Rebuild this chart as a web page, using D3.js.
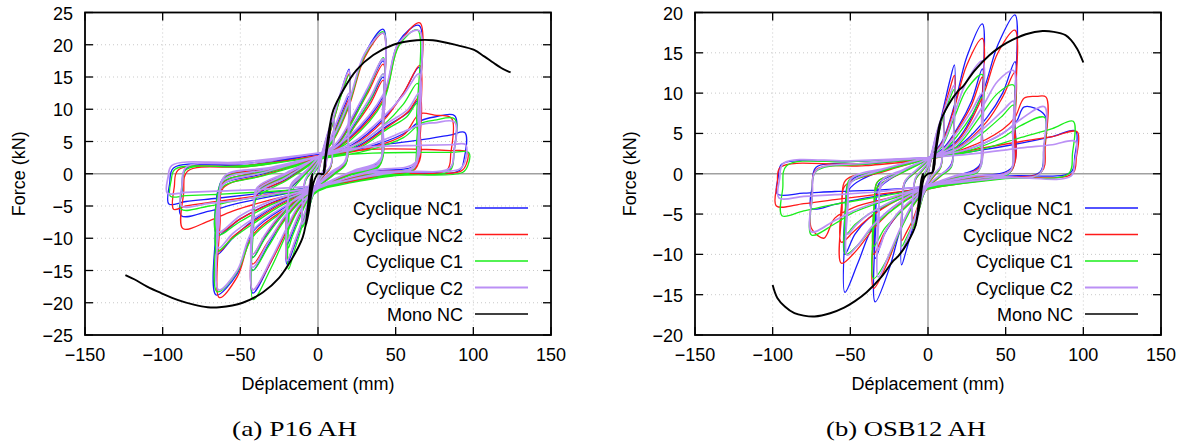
<!DOCTYPE html>
<html><head><meta charset="utf-8">
<script src="https://cdn.jsdelivr.net/npm/d3@7"></script>
<style>body{margin:0;background:#fff}svg{display:block}</style>
</head><body><svg id="c" width="1188" height="443"></svg>
<script>
const xTicks=[-150,-100,-50,0,50,100,150];
const p16YTicks=[-25,-20,-15,-10,-5,0,5,10,15,20,25];
const osbYTicks=[-20,-15,-10,-5,0,5,10,15,20];
const seriesNames=["Cyclique NC1","Cyclique NC2","Cyclique C1","Cyclique C2","Mono NC"];
const captions=["(a) P16 AH","(b) OSB12 AH"];

const p16NC1=[[0,0],[2,2.2],[4,4],[6,5.5],[5.6,2.5],[4.5,0.8],[2,-0.2],[0,-1],[-2,-2.4],[-4,-3.8],[-6,-5],[-5.6,-2.2],[-4.5,-0.6],[-2,0.4],[0,1.2],
[3,3.5],[6,6],[8,7.4],[10,8.5],[9.6,3.8],[8,1],[4,-0.2],[0,-1.5],[-3,-3],[-6,-5.5],[-8,-7],[-10,-8],[-9.6,-3.5],[-8,-1],[-4,0.4],[0,1.8],
[5,4.5],[10,8.5],[15,12.8],[20,16.2],[19.5,7],[18,1.8],[10,0],[0,-2],[-5,-4],[-10,-7.5],[-15,-11],[-20,-14],[-19.5,-5.5],[-18,-2.5],[-10,-0.5],[0,2.2],
[6,4],[12,7.5],[17,10.5],[20,12],[19.5,5],[17,1.5],[8,0],[0,-1.8],[-7,-4],[-13,-7],[-17,-9.5],[-20,-11],[-19.5,-4.5],[-17,-1.8],[-8,0.3],[0,2.3],
[10,5.5],[20,11],[30,18.5],[42,22.4],[41.5,9],[40,2],[22,0.2],[0,-2.5],[-12,-5],[-20,-8.5],[-30,-13.5],[-42,-18.5],[-41.5,-7],[-40,-3.5],[-20,-0.8],[0,2.5],
[12,4.5],[22,8.5],[32,13],[42,17.5],[41.5,6.5],[39.5,1.5],[20,0],[0,-2.3],[-12,-4.2],[-22,-7],[-32,-11],[-42,-15],[-41.5,-5.5],[-39.5,-2.8],[-20,-0.3],[0,2.4],
[14,4.3],[24,7.8],[34,11.5],[42,15],[41.5,5.5],[39,1.2],[20,-0.1],[0,-2.2],[-14,-4],[-24,-6.5],[-34,-9.8],[-42,-13],[-41.5,-4.8],[-39,-2.3],[-20,0],[0,2.4],
[20,5.5],[42,12],[52,20.5],[65,23],[64.5,9],[63,1.5],[35,0.3],[0,-2.5],[-20,-5],[-42,-9],[-52,-15.5],[-65.6,-18.8],[-65,-7],[-63,-2],[-35,0],[0,2.5],
[22,4.5],[42,8.5],[55,12.5],[65,16.5],[64.5,5.5],[62,0.8],[32,0],[0,-2.3],[-22,-4.3],[-42,-7.3],[-55,-10],[-65,-12.5],[-64.5,-4.5],[-62,-1.5],[-32,0.5],[0,2.5],
[25,4.2],[45,7.5],[58,9.5],[65,11.5],[64.5,4],[61,0.8],[30,-0.3],[0,-2.2],[-30,-4.5],[-50,-7],[-65,-9.5],[-64.5,-3],[-60,-0.5],[-30,0.8],[0,2.5],
[30,4],[55,6.2],[66,8.2],[75,8.8],[88,9],[87.5,3.5],[85,0.8],[45,0],[0,-2.2],[-30,-3.5],[-55,-4.8],[-70,-5.8],[-88,-6.5],[-87.5,-2.5],[-85,0.8],[-45,1.3],[0,3],
[35,4.3],[65,5.2],[85,6],[94.5,6.4],[94,2.2],[91,0.5],[50,0],[0,-2],[-35,-3],[-65,-3.8],[-85,-4.3],[-96,-4.7],[-95.5,-1.5],[-93,0.9],[-50,1.5],[0,3]];

const p16NC2=[[0,0],[2,2],[4,3.8],[6,5.2],[5.6,2.3],[4.5,0.7],[2,-0.3],[0,-1.1],[-2,-2.3],[-4,-3.6],[-6,-4.8],[-5.6,-2],[-4.5,-0.5],[-2,0.5],[0,1.3],
[3,3.3],[6,5.8],[8,7.2],[10,8.2],[9.6,3.6],[8,0.9],[4,-0.3],[0,-1.6],[-3,-3],[-6,-5.2],[-8,-6.8],[-10,-7.8],[-9.6,-3.3],[-8,-0.9],[-4,0.4],[0,1.7],
[5,4.3],[10,8.2],[15,12.3],[20,15.5],[19.5,6.5],[18,1.6],[10,-0.1],[0,-2.1],[-5,-3.9],[-10,-7.2],[-15,-10.6],[-20,-13.5],[-19.5,-5.2],[-18,-2.3],[-10,-0.4],[0,2.1],
[6,3.8],[12,7.2],[17,10],[20,11.5],[19.5,4.8],[17,1.3],[8,-0.1],[0,-1.9],[-7,-4.1],[-13,-6.8],[-17,-9],[-20,-10.5],[-19.5,-4.2],[-17,-1.6],[-8,0.2],[0,2.1],
[10,5.2],[20,10.5],[30,18],[42,21.8],[41.5,8.5],[40,1.8],[22,0.1],[0,-2.6],[-12,-5.2],[-20,-8.8],[-30,-13.5],[-42,-18],[-41.5,-6.8],[-40,-3.3],[-20,-0.9],[0,2.3],
[12,4.3],[22,8.2],[32,12.5],[42,17],[41.5,6.2],[39.5,1.4],[20,-0.1],[0,-2.4],[-12,-4.3],[-22,-7.2],[-32,-10.5],[-42,-14],[-41.5,-5.2],[-39.5,-2.6],[-20,-0.4],[0,2.3],
[14,4.1],[24,7.5],[34,11],[42,14.5],[41.5,5.3],[39,1.1],[20,-0.2],[0,-2.3],[-14,-4.1],[-24,-6.4],[-34,-9.5],[-42,-12.5],[-41.5,-4.6],[-39,-2.2],[-20,-0.2],[0,2.2],
[20,5.3],[42,11.5],[52,20],[65.5,23.4],[65,9.5],[63.5,1.2],[35,0.2],[0,-2.6],[-20,-5.3],[-42,-9.5],[-52,-16],[-63.5,-19.2],[-63,-7.5],[-61,-2.2],[-35,-0.2],[0,2.4],
[22,4.3],[42,8.2],[55,12.5],[65.5,16.8],[65,5.8],[62.5,0.7],[32,-0.1],[0,-2.4],[-22,-4.5],[-42,-7.5],[-55,-9.8],[-63.5,-12],[-63,-4.3],[-60.5,-1.3],[-32,0.4],[0,2.4],
[25,4],[45,7.3],[58,9.6],[65.5,12],[65,4.2],[61.5,0.6],[30,-0.4],[0,-2.3],[-30,-4.6],[-50,-7],[-63.5,-9],[-63,-2.8],[-59,-0.4],[-30,0.7],[0,2.4],
[30,3.8],[55,6],[65.5,9.3],[75,9.1],[86,8.6],[85.5,3.2],[83,0.6],[45,-0.1],[0,-2.3],[-30,-4],[-55,-5.8],[-70,-7.3],[-87,-8.5],[-86.5,-3],[-84,0.4],[-45,1.1],[0,2.8],
[35,3.8],[65,3.8],[85,3.6],[96,3.4],[95.5,1.5],[92,0.4],[50,-0.2],[0,-2.1],[-35,-3.3],[-65,-4.3],[-85,-5],[-93,-5.5],[-92.5,-2],[-90,0.6],[-50,1.2],[0,2.7]];

const p16C1=[[0,0],[2,2.3],[4,4.1],[6,5.6],[5.6,2.6],[4.5,0.9],[2,-0.2],[0,-1],[-2,-2.5],[-4,-3.9],[-6,-5.1],[-5.6,-2.3],[-4.5,-0.7],[-2,0.3],[0,1.1],
[3,3.4],[6,5.9],[8,7.3],[10,8.3],[9.6,3.7],[8,1],[4,-0.1],[0,-1.4],[-3,-3.1],[-6,-5.6],[-8,-7.2],[-10,-8.3],[-9.6,-3.6],[-8,-1.1],[-4,0.3],[0,1.6],
[5,4.4],[10,8.3],[15,12.2],[20,15.3],[19.5,6.8],[18,1.5],[10,-0.2],[0,-2.2],[-5,-4.2],[-10,-8],[-15,-11.8],[-19,-14.8],[-18.5,-6],[-17,-2.8],[-10,-0.6],[0,2],
[6,3.7],[12,7],[17,9.8],[20,11],[19.5,4.6],[17,1.2],[8,-0.2],[0,-2],[-7,-4.3],[-13,-7.6],[-17,-10],[-19,-11.5],[-18.5,-4.6],[-16.5,-1.8],[-8,0],[0,2],
[10,5.3],[20,10.8],[30,18.3],[42,22],[41.5,8.8],[40,1.5],[22,0],[0,-2.7],[-12,-5.4],[-20,-9.2],[-30,-14.5],[-41.7,-19.5],[-41.2,-7.3],[-39.5,-3.8],[-20,-1],[0,2.2],
[12,4.2],[22,8],[32,12.8],[42,18],[41.5,6.8],[39.5,1.2],[20,-0.2],[0,-2.5],[-12,-4.5],[-22,-7.4],[-32,-11.3],[-42,-15],[-41.5,-5.6],[-39.5,-2.9],[-20,-0.5],[0,2.2],
[14,4],[24,7.6],[34,11.6],[42,15.5],[41.5,5.6],[39,1],[20,-0.3],[0,-2.4],[-14,-4.3],[-24,-6.8],[-34,-10],[-42,-13],[-41.5,-4.9],[-39,-2.4],[-20,-0.3],[0,2.1],
[20,5],[42,11.2],[52,19.8],[64,22.3],[63.5,9],[62,1.2],[35,0],[0,-2.7],[-20,-5.5],[-42,-9.8],[-52,-15.2],[-65,-18.3],[-64.5,-7],[-62.5,-2.3],[-35,-0.3],[0,2.2],
[22,4],[42,7.5],[55,10.8],[64,14],[63.5,5],[61,0.5],[32,-0.2],[0,-2.5],[-22,-4.7],[-42,-7.8],[-55,-10],[-65,-12],[-64.5,-4.5],[-62,-1.4],[-32,0.3],[0,2.2],
[25,3.8],[45,7],[57,8.8],[64,11],[63.5,3.8],[60.5,0.4],[30,-0.4],[0,-2.4],[-30,-4.8],[-50,-7.4],[-65,-9.5],[-64.5,-3.2],[-60,-0.6],[-30,0.5],[0,2.2],
[30,3.5],[55,5.6],[66,7.8],[75,8.3],[88,8.5],[87.5,3.2],[85,0.5],[45,-0.3],[0,-2.4],[-30,-3.3],[-55,-4.3],[-70,-5],[-88,-5.5],[-87.5,-2.2],[-85,0.6],[-45,1.1],[0,2.6],
[35,3.2],[65,3.3],[85,3.3],[97,3.3],[96.5,1.3],[93,0.2],[50,-0.3],[0,-2.2],[-35,-2.8],[-65,-3.2],[-85,-3.4],[-95,-3.5],[-94.5,-1],[-92,0.7],[-50,1.2],[0,2.5]];

const p16C2=[[0,0],[2,2.2],[4,4],[6,5.4],[5.6,2.4],[4.5,0.8],[2,0],[0,-0.8],[-2,-2.2],[-4,-3.6],[-6,-4.7],[-5.6,-2.1],[-4.5,-0.5],[-2,0.5],[0,1.4],
[3,3.6],[6,6.1],[8,7.5],[10,8.6],[9.6,3.9],[8,1.2],[4,0],[0,-1.3],[-3,-2.8],[-6,-5.2],[-8,-6.8],[-10,-7.8],[-9.6,-3.3],[-8,-0.8],[-4,0.6],[0,2],
[5,4.7],[10,8.8],[15,12.9],[20,16],[19.5,7.2],[18,2],[10,0.2],[0,-1.8],[-5,-3.7],[-10,-7.1],[-15,-10.5],[-20,-13.5],[-19.5,-5.2],[-18,-2.2],[-10,-0.2],[0,2.5],
[6,4.4],[12,8],[17,11],[20,12.5],[19.5,5.3],[17,1.8],[8,0.2],[0,-1.6],[-7,-3.8],[-13,-6.6],[-17,-9],[-20,-10.5],[-19.5,-4.2],[-17,-1.5],[-8,0.4],[0,2.5],
[10,5.8],[20,11.3],[30,18.6],[42,21.8],[41.5,9.2],[40,2.2],[22,0.4],[0,-2.3],[-12,-4.8],[-20,-8.3],[-30,-13.2],[-42,-18],[-41.5,-6.6],[-40,-3.2],[-20,-0.5],[0,2.7],
[12,4.8],[22,8.8],[32,13.3],[42,17.8],[41.5,6.8],[39.5,1.7],[20,0.2],[0,-2.1],[-12,-4],[-22,-6.8],[-32,-10.6],[-42,-14.5],[-41.5,-5.3],[-39.5,-2.6],[-20,0],[0,2.6],
[14,4.6],[24,8.2],[34,12],[42,15.5],[41.5,5.8],[39,1.5],[20,0.1],[0,-2],[-14,-3.8],[-24,-6.2],[-34,-9.4],[-42,-12.5],[-41.5,-4.6],[-39,-2.1],[-20,0.2],[0,2.6],
[20,5.8],[42,12.3],[52,20.3],[65,22.2],[64.5,9.5],[63,1.8],[35,0.5],[0,-2.3],[-20,-4.8],[-42,-8.8],[-52,-15],[-64,-18],[-63.5,-6.8],[-61.5,-1.8],[-35,0.2],[0,2.7],
[22,4.8],[42,8.8],[55,12.2],[65,15.5],[64.5,5.5],[62,1],[32,0.2],[0,-2.1],[-22,-4.1],[-42,-7],[-55,-9.3],[-64,-11.5],[-63.5,-4.2],[-61,-1],[-32,0.7],[0,2.7],
[25,4.6],[45,7.9],[58,10],[65,12.5],[64.5,4.4],[61,1],[30,0],[0,-2],[-30,-4.2],[-50,-6.5],[-64,-9],[-63.5,-2.8],[-59.5,-0.2],[-30,1],[0,2.7],
[30,4.2],[55,6.5],[66,7.6],[75,7.9],[88,8],[87.5,3.3],[85,0.9],[45,0.2],[0,-2],[-30,-3.2],[-55,-4.2],[-70,-4.6],[-88,-5],[-87.5,-1.8],[-85,1],[-45,1.6],[0,3.2],
[35,4.2],[65,4.4],[85,4.5],[95,4.5],[94.5,1.8],[91,0.7],[50,0.2],[0,-1.8],[-35,-2.4],[-65,-2.7],[-85,-2.9],[-97,-3],[-96.5,-0.5],[-94,1.3],[-50,1.8],[0,3.2]];

const p16Mono=[[-124,-15.7],[-118,-16.4],[-110,-17.5],[-101,-18.5],[-90,-19.6],[-80,-20.3],[-71,-20.7],[-63.5,-20.7],[-48.5,-20],[-35.6,-18.4],[-24.9,-16.1],[-16.3,-13],[-9.9,-9.9],[-8,-8],[-6.5,-5],[-4.5,-1],[-3.5,0],[-5,-3.5],[-8,-8.2],[-6,-6],[-3,-1.5],[0,0],
[3.5,0],[5,3],[8.5,8],[7,5.5],[3.5,0.3],[5.5,4],[8,8],[9.9,9.9],[16.3,13],[24.9,16.1],[35.6,18.4],[48.5,20],[63.5,20.7],[74,20.7],[90,19.9],[100.5,19.2],[107,18.2],[113,17.2],[118,16.4],[124,15.7]];

const osbNC1=[[0,0],[2,1.8],[3.5,3],[5,4],[4.6,1.8],[3.5,0.5],[1.5,-0.2],[0,-0.8],[-2,-1.7],[-3.5,-2.7],[-5,-3.5],[-4.6,-1.5],[-3.5,-0.4],[-1.5,0.3],[0,1],
[2.5,2.6],[5,4.6],[7.5,6.2],[10,7.5],[9.6,3.2],[8,0.8],[4,-0.2],[0,-1.2],[-2.5,-2.2],[-5,-3.8],[-7.5,-5.3],[-10,-6.5],[-9.6,-2.6],[-8,-0.6],[-4,0.4],[0,1.4],
[5,4.2],[10,8.2],[14,11.5],[17,13.5],[16.5,5.5],[15,1.2],[8,-0.2],[0,-1.6],[-5,-3.6],[-10,-6.8],[-14,-9.5],[-17,-11.3],[-16.5,-4.5],[-15,-1.2],[-8,0.3],[0,1.8],
[9,4],[17,8.5],[25,14.5],[35,18.6],[34.5,7.5],[33,1],[18,-0.3],[0,-1.8],[-9,-3.6],[-17,-6.5],[-25,-11.8],[-34,-15.9],[-33.5,-6],[-32,-2],[-17,0.2],[0,1.9],
[10,3.2],[20,6],[28,9],[35,13],[34.5,5],[32.5,0.6],[18,-0.4],[0,-1.7],[-10,-3.2],[-20,-5.2],[-28,-7.5],[-34,-10.5],[-33.5,-4],[-31.5,-1.2],[-17,0.3],[0,1.9],
[18,4],[35,10],[45,16],[56,19.7],[55.5,8],[54,0.8],[30,-0.4],[0,-1.8],[-18,-3.5],[-35,-6.5],[-45,-11],[-53.5,-14.7],[-53,-6],[-51,-2],[-28,0.5],[0,2],
[20,3.5],[38,7],[48,10],[56,13.9],[55.5,5.5],[53.5,0.4],[28,-0.4],[0,-1.7],[-20,-3.2],[-38,-5.5],[-47,-7.5],[-53.5,-10],[-53,-4],[-50.5,-1],[-27,0.6],[0,2],
[25,3],[48,5],[57,6.5],[62,8.3],[75,7.3],[74.5,3],[72,0.2],[40,-0.4],[0,-1.7],[-25,-2.5],[-48,-3.3],[-60,-3.8],[-75,-4.3],[-74.5,-1.5],[-72,0.8],[-40,1.2],[0,2],
[30,2.8],[60,3.8],[80,4.6],[95,5.3],[94.5,2.2],[92,0.2],[50,-0.3],[0,-1.6],[-30,-2],[-60,-2.2],[-80,-2.4],[-97,-2.5],[-96.5,-0.5],[-94,1.2],[-50,1.5],[0,2]];

const osbNC2=[[0,0],[2,1.7],[3.5,2.9],[5,3.8],[4.6,1.7],[3.5,0.4],[1.5,-0.3],[0,-0.9],[-2,-1.8],[-3.5,-2.8],[-5,-3.6],[-4.6,-1.6],[-3.5,-0.5],[-1.5,0.2],[0,0.9],
[2.5,2.5],[5,4.4],[7.5,6],[10,7.2],[9.6,3],[8,0.7],[4,-0.3],[0,-1.3],[-2.5,-2.3],[-5,-3.9],[-7.5,-5.4],[-10,-6.7],[-9.6,-2.7],[-8,-0.7],[-4,0.3],[0,1.3],
[5,4],[10,7.8],[14,10.5],[17,12.2],[16.5,5],[15,1],[8,-0.3],[0,-1.7],[-5,-3.3],[-10,-5.8],[-14,-7.3],[-17,-8.3],[-16.5,-3.5],[-15,-1],[-8,0.2],[0,1.7],
[9,3.8],[17,8.2],[25,13.5],[35,16.8],[34.5,7],[33,0.8],[18,-0.4],[0,-1.9],[-9,-3.8],[-17,-6.5],[-26,-11],[-35,-14.2],[-34.5,-5.5],[-33,-1.8],[-17,0.1],[0,1.8],
[10,3],[20,5.8],[28,8.5],[35,12],[34.5,4.6],[32.5,0.5],[18,-0.5],[0,-1.8],[-10,-3.3],[-20,-5.2],[-28,-7.3],[-35,-10],[-34.5,-3.8],[-32.5,-1],[-17,0.2],[0,1.8],
[18,3.8],[35,9.5],[45,15],[56,17.8],[55.5,7.5],[54,0.6],[30,-0.5],[0,-1.9],[-18,-3.7],[-35,-6.8],[-46,-9.5],[-55.8,-11.1],[-55.3,-4.5],[-53.5,-1.5],[-28,0.3],[0,1.9],
[20,3.3],[38,6.5],[48,9.5],[56,12.6],[55.5,5],[53.5,0.3],[28,-0.5],[0,-1.8],[-20,-3.3],[-38,-5.5],[-48,-7.2],[-55.8,-8.5],[-55.3,-3.2],[-53,-0.8],[-27,0.5],[0,1.9],
[25,3.2],[48,5.5],[56,7],[62,9.4],[70,9.6],[76,9.5],[75.5,3.5],[73,0.2],[40,-0.5],[0,-1.9],[-25,-3],[-48,-4.2],[-60,-5.5],[-65,-7.5],[-67,-8],[-75,-6.8],[-74.5,-2.5],[-72,0.5],[-40,1],[0,1.8],
[30,3],[60,4],[80,4.6],[96,5.2],[95.5,2],[93,0],[50,-0.5],[0,-1.8],[-30,-2.5],[-60,-3.2],[-80,-3.7],[-97.6,-4],[-97,-1.2],[-95,0.8],[-50,1.2],[0,1.8]];

const osbC1=[[0,0],[2,1.8],[3.5,3],[5,3.9],[4.6,1.8],[3.5,0.5],[1.5,-0.2],[0,-0.8],[-2,-1.9],[-3.5,-2.9],[-5,-3.7],[-4.6,-1.7],[-3.5,-0.5],[-1.5,0.2],[0,0.9],
[2.5,2.5],[5,4.4],[7.5,5.9],[10,7],[9.6,3],[8,0.7],[4,-0.2],[0,-1.2],[-2.5,-2.4],[-5,-4],[-7.5,-5.6],[-10,-6.8],[-9.6,-2.8],[-8,-0.7],[-4,0.3],[0,1.3],
[5,3.8],[10,7.2],[14,9.3],[17,10.5],[16.5,4.5],[15,0.8],[8,-0.3],[0,-1.6],[-5,-3.5],[-10,-6.3],[-14,-8],[-17,-9],[-16.5,-3.8],[-15,-1.1],[-8,0.2],[0,1.6],
[9,3.4],[17,7],[25,10.5],[35,12.3],[34.5,5.5],[33,0.5],[18,-0.5],[0,-1.8],[-9,-3.8],[-17,-6.7],[-26,-10.5],[-35,-13],[-34.5,-5.2],[-33,-1.8],[-17,0.1],[0,1.7],
[10,2.8],[20,5],[28,7.2],[35,9.5],[34.5,3.8],[32.5,0.3],[18,-0.5],[0,-1.7],[-10,-3.4],[-20,-5.2],[-28,-6.8],[-35,-9],[-34.5,-3.5],[-32.5,-1],[-17,0.2],[0,1.7],
[18,3.3],[35,7.5],[45,10],[55,11],[54.5,5],[53,0.3],[30,-0.6],[0,-1.9],[-18,-3.8],[-35,-6.5],[-45,-8.8],[-53,-10],[-52.5,-4],[-51,-1.3],[-28,0.4],[0,1.8],
[20,3],[38,5.5],[48,7.2],[55,8.5],[54.5,3.8],[52.5,0.1],[28,-0.6],[0,-1.8],[-20,-3.3],[-38,-5],[-47,-6.3],[-53,-7.5],[-52.5,-3],[-50.5,-0.7],[-27,0.5],[0,1.8],
[25,2.8],[48,4.5],[60,6],[75,7],[74.5,3],[72,0],[40,-0.6],[0,-1.9],[-25,-3.2],[-48,-4.8],[-60,-6.2],[-75,-7.6],[-74.5,-3],[-72,0.3],[-40,1.2],[0,1.9],
[30,2.8],[60,4.5],[80,5.6],[93.5,6.5],[93,2.5],[90.5,0],[50,-0.6],[0,-1.8],[-30,-2.8],[-60,-3.8],[-80,-4.6],[-94,-5.2],[-93.5,-1.8],[-91,1],[-50,1.5],[0,1.9]];

const osbC2=[[0,0],[2,1.9],[3.5,3.1],[5,4.1],[4.6,1.9],[3.5,0.6],[1.5,-0.1],[0,-0.7],[-2,-1.6],[-3.5,-2.6],[-5,-3.4],[-4.6,-1.4],[-3.5,-0.3],[-1.5,0.4],[0,1.1],
[2.5,2.7],[5,4.7],[7.5,6.3],[10,7.4],[9.6,3.3],[8,0.9],[4,0],[0,-1.1],[-2.5,-2.1],[-5,-3.7],[-7.5,-5.2],[-10,-6.3],[-9.6,-2.5],[-8,-0.5],[-4,0.5],[0,1.5],
[5,4],[10,7.6],[14,9.8],[17,11],[16.5,4.8],[15,1],[8,-0.1],[0,-1.5],[-5,-3.4],[-10,-6.4],[-14,-8.4],[-17,-9.5],[-16.5,-4],[-15,-1],[-8,0.4],[0,1.8],
[9,3.6],[17,7.5],[25,11.5],[35,14],[34.5,6],[33,0.6],[18,-0.2],[0,-1.6],[-9,-3.4],[-17,-6.4],[-25,-10],[-32,-12.8],[-31.5,-5],[-30,-1.5],[-16,0.4],[0,1.9],
[10,3],[20,5.5],[28,7.8],[35,10],[34.5,4],[32.5,0.4],[18,-0.3],[0,-1.5],[-10,-3.1],[-20,-5],[-27,-7],[-32,-9.5],[-31.5,-3.5],[-29.5,-0.8],[-16,0.5],[0,1.9],
[18,3.6],[35,8.3],[45,11.5],[55,12.8],[54.5,5.5],[53,0.4],[30,-0.3],[0,-1.6],[-18,-3.5],[-35,-6.3],[-45,-8.8],[-52,-10.1],[-51.5,-4],[-50,-1.2],[-28,0.6],[0,2],
[20,3.2],[38,6],[48,7.8],[55,9],[54.5,4],[52.5,0.2],[28,-0.3],[0,-1.5],[-20,-3.1],[-38,-5],[-46,-6.3],[-52,-7.5],[-51.5,-3],[-49.5,-0.6],[-27,0.7],[0,2],
[25,3],[48,5],[60,6.8],[75,8.3],[74.5,3.3],[72,0],[40,-0.4],[0,-1.6],[-25,-3],[-48,-4.6],[-60,-5.8],[-75,-7.2],[-74.5,-2.8],[-72,0.4],[-40,1.3],[0,2],
[30,2.5],[60,3.2],[80,3.6],[95,4],[94.5,1.5],[92,-0.3],[50,-0.5],[0,-1.5],[-30,-2.2],[-60,-2.6],[-80,-2.8],[-96,-3],[-95.5,-0.6],[-93,1.3],[-50,1.6],[0,2]];

const osbMono=[[-100,-13.8],[-97,-15.4],[-92,-16.5],[-86,-17.3],[-80,-17.6],[-73,-17.7],[-63,-17.3],[-54,-16.6],[-47,-15.8],[-39.5,-14.7],[-30,-12.8],[-22.4,-10.8],[-19,-10.2],[-13,-8.5],[-8,-6.4],[-6,-3.5],[-4,-0.5],[-3,0],[-5,-3],[-8,-6.5],[-5.5,-4],[-2.5,-0.5],[0,0],
[3,0.2],[5,3],[8,6.3],[6.5,4.5],[3,0.3],[5,3.2],[7.7,6.3],[13,8.5],[19,10.2],[22.4,10.8],[30,12.8],[39.5,14.7],[47,15.8],[54.3,16.6],[63,17.3],[73.8,17.7],[81,17.6],[88.5,17.2],[92,16.6],[96,15.5],[100,13.8]];

const colors=["#1a1aff","#ff1a1a","#1aee1a","#bb90f5","#000000"];
const widths=[1.3,1.3,1.3,1.7,1.9];

const panels=[
 {x0:85,x1:551,y0:12.5,y1:335,ymin:-25,ymax:25,yTicks:p16YTicks,series:[p16NC1,p16NC2,p16C1,p16C2,p16Mono],cap:captions[0],capX:294.5,capW:125,ylabX:19},
 {x0:695,x1:1161,y0:12.5,y1:335,ymin:-20,ymax:20,yTicks:osbYTicks,series:[osbNC1,osbNC2,osbC1,osbC2,osbMono],cap:captions[1],capX:906,capW:160,ylabX:630}
];
const svg=d3.select("#c");
const fmt=v=>v<0?"\u2212"+Math.abs(v):String(v);
const FONT="'Liberation Sans', Arial, Helvetica, sans-serif";

panels.forEach((p,pi)=>{
  const x=d3.scaleLinear().domain([-150,150]).range([p.x0,p.x1]);
  const y=d3.scaleLinear().domain([p.ymin,p.ymax]).range([p.y1,p.y0]);
  const g=svg.append("g");
  const cid="clip"+pi;
  svg.append("clipPath").attr("id",cid).append("rect").attr("x",p.x0).attr("y",p.y0).attr("width",p.x1-p.x0).attr("height",p.y1-p.y0);
  g.selectAll(".gx").data(xTicks.filter(v=>v!==0&&v>-150&&v<150)).enter().append("line")
    .attr("x1",d=>x(d)).attr("x2",d=>x(d)).attr("y1",p.y0).attr("y2",p.y1)
    .attr("stroke","#bbb").attr("stroke-width",0.8).attr("stroke-dasharray","1,3");
  g.selectAll(".gy").data(p.yTicks.filter(v=>v!==0&&v>p.ymin&&v<p.ymax)).enter().append("line")
    .attr("y1",d=>y(d)).attr("y2",d=>y(d)).attr("x1",p.x0).attr("x2",p.x1)
    .attr("stroke","#bbb").attr("stroke-width",0.8).attr("stroke-dasharray","1,3");
  g.append("line").attr("x1",x(0)).attr("x2",x(0)).attr("y1",p.y0).attr("y2",p.y1).attr("stroke","#a0a0a0").attr("stroke-width",1.4);
  g.append("line").attr("y1",y(0)).attr("y2",y(0)).attr("x1",p.x0).attr("x2",p.x1).attr("stroke","#a0a0a0").attr("stroke-width",1.4);
  const line=d3.line().x(d=>x(d[0])).y(d=>y(d[1])).curve(d3.curveCatmullRom.alpha(0.5));
  const cg=g.append("g").attr("clip-path","url(#"+cid+")");
  p.series.forEach((s,i)=>{
    cg.append("path").attr("d",line(s)).attr("fill","none").attr("stroke",colors[i]).attr("stroke-width",widths[i]).attr("stroke-linejoin","round");
  });
  const tl=8;
  const ax=g.append("g").attr("stroke","#000").attr("stroke-width",1.3);
  xTicks.forEach(v=>{
    ax.append("line").attr("x1",x(v)).attr("x2",x(v)).attr("y1",p.y1).attr("y2",p.y1-tl);
    ax.append("line").attr("x1",x(v)).attr("x2",x(v)).attr("y1",p.y0).attr("y2",p.y0+tl);
  });
  p.yTicks.forEach(v=>{
    ax.append("line").attr("y1",y(v)).attr("y2",y(v)).attr("x1",p.x0).attr("x2",p.x0+tl);
    ax.append("line").attr("y1",y(v)).attr("y2",y(v)).attr("x1",p.x1).attr("x2",p.x1-tl);
  });
  g.append("rect").attr("x",p.x0).attr("y",p.y0).attr("width",p.x1-p.x0).attr("height",p.y1-p.y0)
    .attr("fill","none").attr("stroke","#000").attr("stroke-width",1.8);
  g.selectAll(".xl").data(xTicks).enter().append("text")
    .attr("x",d=>x(d)).attr("y",361).attr("text-anchor","middle")
    .style("font-family",FONT).style("font-size","18px").text(fmt);
  g.selectAll(".yl").data(p.yTicks).enter().append("text")
    .attr("x",p.x0-12).attr("y",d=>y(d)+7).attr("text-anchor","end")
    .style("font-family",FONT).style("font-size","18px").text(fmt);
  g.append("text").attr("x",(p.x0+p.x1)/2).attr("y",389.5).attr("text-anchor","middle")
    .style("font-family",FONT).style("font-size","18px").text("Déplacement (mm)");
  g.append("text").attr("transform","translate("+(p.ylabX+6)+","+((p.y0+p.y1)/2)+") rotate(-90)")
    .attr("text-anchor","middle").style("font-family",FONT).style("font-size","18px").text("Force (kN)");
  const ly=[208,234.5,261,287.5,314];
  seriesNames.forEach((n,i)=>{
    g.append("text").attr("x",p.x1-88).attr("y",ly[i]+7).attr("text-anchor","end")
      .style("font-family",FONT).style("font-size","18px").text(n);
    g.append("line").attr("x1",p.x1-76).attr("x2",p.x1-23).attr("y1",ly[i]).attr("y2",ly[i])
      .attr("stroke",colors[i]).attr("stroke-width",i===3?2:1.5);
  });
  g.append("text").attr("x",p.capX).attr("y",436).attr("text-anchor","middle")
    .attr("textLength",p.capW).attr("lengthAdjust","spacingAndGlyphs")
    .style("font-family","'Liberation Serif','DejaVu Serif',serif").style("font-size","22px").text(p.cap);
});
</script></body></html>
